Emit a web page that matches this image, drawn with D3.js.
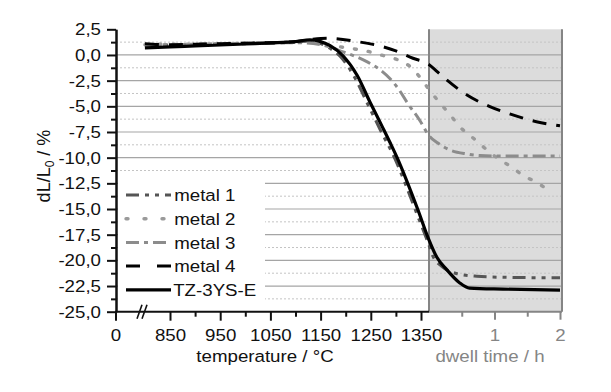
<!DOCTYPE html>
<html>
<head>
<meta charset="utf-8">
<script src="https://cdn.jsdelivr.net/npm/d3@7"></script>
<style>
  body { margin: 0; background: #fff; }
  svg { display: block; font-family: "Liberation Sans", Arial, sans-serif; }
  text.wide { transform-box: fill-box; transform-origin: center; transform: scaleX(1.1); }
  .yaxis text.wide { transform-origin: right center; }
</style>
</head>
<body>
<svg id="chart" width="611" height="392"></svg>
<script>
// heating part: [temperature °C, dL/L0 %]
var heatMetal1 = [[800,1.0],[850,0.98],[900,1.02],[950,1.06],[1000,1.1],[1050,1.15],[1100,1.25],[1125,1.35],[1150,1.1],[1165,0.75],[1192,-0.3],[1218,-2.2],[1245,-4.9],[1270,-7.4],[1298,-10.1],[1320,-12.7],[1342,-15.5],[1365,-18.4]]
var heatMetal2 = [[800,1.0],[850,1.05],[900,1.05],[950,1.1],[1000,1.15],[1050,1.2],[1100,1.25],[1150,1.1],[1200,0.7],[1235,0.45],[1270,0.0],[1305,-0.5],[1330,-1.2],[1350,-2.3],[1365,-3.3]]
var heatMetal3 = [[800,1.0],[850,1.0],[900,1.05],[950,1.1],[1000,1.15],[1050,1.2],[1100,1.2],[1150,1.0],[1195,0.3],[1242,-0.65],[1270,-1.5],[1288,-2.3],[1305,-3.3],[1322,-4.6],[1348,-6.4],[1365,-7.8]]
var heatMetal4 = [[800,1.1],[850,1.0],[900,1.05],[950,1.1],[1000,1.15],[1050,1.2],[1100,1.3],[1130,1.5],[1163,1.63],[1223,1.3],[1274,0.8],[1300,0.4],[1334,-0.32],[1365,-0.9]]
var heatTZ = [[800,0.7],[850,0.78],[900,0.88],[950,0.97],[1000,1.07],[1050,1.17],[1100,1.3],[1129,1.48],[1150,1.3],[1169,0.9],[1195,-0.1],[1223,-2.0],[1248,-4.55],[1274,-7.1],[1288,-8.5],[1302,-9.95],[1322,-12.3],[1344,-15.1],[1365,-17.9]]

// dwell part: [time h, dL/L0 %]
var dwellMetal1 = [[0.06,-19.6],[0.2,-20.6],[0.43,-21.3],[0.73,-21.55],[1.13,-21.65],[2.0,-21.7]]
var dwellMetal2 = [[0.17,-4.7],[0.32,-5.8],[0.47,-7.0],[0.65,-7.95],[0.82,-8.9],[1.08,-10.2],[1.26,-10.9],[1.43,-11.7],[1.64,-12.4],[1.81,-13.1]]
var dwellMetal3 = [[0.14,-8.6],[0.32,-9.25],[0.58,-9.64],[0.78,-9.8],[1.0,-9.83],[2.0,-9.83]]
var dwellMetal4 = [[0.12,-1.6],[0.27,-2.43],[0.58,-3.9],[0.93,-5.03],[1.28,-5.84],[1.64,-6.5],[2.0,-6.9]]
var dwellTZ = [[0.12,-19.7],[0.27,-20.9],[0.47,-22.2],[0.62,-22.7],[1.13,-22.8],[2.0,-22.9]]

var seriesNames = ["metal 1", "metal 2", "metal 3", "metal 4", "TZ-3YS-E"]
var yTicks = d3.range(-25, 2.51, 2.5)
var tempTicks = [850, 950, 1050, 1150, 1250, 1350]
var dwellTicks = [1, 2]

var styles = [
    {color: "#555", dash: "13,6,4,6,4,6", width: 3},
    {color: "#9a9a9a", dash: "2,12", width: 3.4},
    {color: "#8c8c8c", dash: "13,5,4,5", width: 3},
    {color: "#000", dash: "14,10", width: 3},
    {color: "#000", dash: null, width: 3.2}
]

var plotL = 116, plotR = 562, plotT = 29.3, plotB = 311.7

var svg = d3.select("#chart")

var y = d3.scaleLinear().domain([-25, 2.5]).range([plotB, plotT])
var xTemp = d3.scaleLinear().domain([850, 1350]).range([170, 421])
var xDwell = d3.scaleLinear().domain([0, 2]).range([429, 560])

var fmt = d3.formatLocale({decimal: ",", thousands: ".", grouping: [3], currency: ["", ""], minus: "-"}).format(".1f")

// dwell background
svg.append("rect")
    .attr("x", xDwell(0)).attr("y", plotT)
    .attr("width", plotR - xDwell(0)).attr("height", plotB - plotT)
    .attr("fill", "#dcdcdc")

// grid
var grid = svg.append("g")
grid.selectAll(".major").data(yTicks.filter(function(d) { return d > -25 && d < 2.5 }))
    .enter().append("line")
    .attr("x1", plotL).attr("x2", plotR)
    .attr("y1", function(d) { return y(d) }).attr("y2", function(d) { return y(d) })
    .attr("stroke", "#a5a5a5").attr("stroke-width", 1.2)
grid.selectAll(".minor").data(d3.range(-23.75, 2.5, 2.5))
    .enter().append("line")
    .attr("x1", plotL).attr("x2", plotR)
    .attr("y1", function(d) { return y(d) }).attr("y2", function(d) { return y(d) })
    .attr("stroke", "#c4c4c4").attr("stroke-width", 1).attr("stroke-dasharray", "2,2")

// dwell box edges
svg.selectAll(".edge").data([xDwell(0), plotR]).enter().append("line")
    .attr("x1", function(d) { return d }).attr("x2", function(d) { return d })
    .attr("y1", plotT).attr("y2", plotB)
    .attr("stroke", "#858585").attr("stroke-width", 2)

// legend background
svg.append("rect").attr("x", plotL + 2).attr("y", 176).attr("width", 147).attr("height", 132).attr("fill", "#fff")

// curves
var heats = [heatMetal1, heatMetal2, heatMetal3, heatMetal4, heatTZ]
var dwells = [dwellMetal1, dwellMetal2, dwellMetal3, dwellMetal4, dwellTZ]
var line = d3.line().curve(d3.curveMonotoneX)

heats.forEach(function(h, i) {
    var pts = h.map(function(d) { return [xTemp(d[0]), y(d[1])] })
        .concat(dwells[i].map(function(d) { return [xDwell(d[0]), y(d[1])] }))
    svg.append("path")
        .attr("d", line(pts))
        .attr("fill", "none")
        .attr("stroke", styles[i].color)
        .attr("stroke-width", styles[i].width)
        .attr("stroke-dasharray", styles[i].dash)
        .attr("stroke-linecap", i == 1 ? "round" : "butt")
})

// y axis
var yAxis = svg.append("g").attr("class", "yaxis").attr("transform", "translate(" + plotL + ",0)")
yAxis.call(d3.axisLeft(y).tickValues(yTicks).tickSize(9).tickSizeOuter(0).tickPadding(6).tickFormat(fmt))
yAxis.append("g").call(d3.axisLeft(y).tickValues(d3.range(-23.75, 2.5, 2.5)).tickSize(5).tickSizeOuter(0).tickFormat(""))
yAxis.selectAll(".domain").attr("stroke-width", 2).attr("stroke", "#111")
yAxis.selectAll(".tick line").attr("stroke-width", 2).attr("stroke", "#111")
yAxis.selectAll("text").attr("class", "wide").attr("font-size", 17).attr("fill", "#111").attr("font-family", null)

// x axes
var xAxis = svg.append("g").attr("transform", "translate(0," + plotB + ")")
xAxis.call(d3.axisBottom(xTemp).tickValues(tempTicks).tickSize(9).tickPadding(8).tickFormat(d3.format("d")))
xAxis.append("g").call(d3.axisBottom(xTemp).tickValues([900, 1000, 1100, 1200, 1300]).tickSize(5).tickFormat(""))
xAxis.selectAll(".domain").remove()
xAxis.selectAll(".tick line").attr("stroke-width", 2).attr("stroke", "#111")
xAxis.selectAll("text").attr("class", "wide").attr("font-size", 17).attr("fill", "#111").attr("font-family", null)
xAxis.append("line").attr("x1", plotL - 1).attr("x2", xDwell(0)).attr("stroke", "#111").attr("stroke-width", 2)
xAxis.append("line").attr("x1", plotL).attr("x2", plotL).attr("y2", 9).attr("stroke", "#111").attr("stroke-width", 2)
xAxis.append("text").attr("class", "wide").attr("x", plotL).attr("y", 17).attr("dy", "0.71em")
    .attr("text-anchor", "middle").attr("font-size", 17).attr("fill", "#111").text("0")
// axis break
xAxis.selectAll(".brk").data([0, 5]).enter().append("line")
    .attr("x1", function(d) { return 137 + d }).attr("y1", 7)
    .attr("x2", function(d) { return 142 + d }).attr("y2", -7)
    .attr("stroke", "#111").attr("stroke-width", 1.6)

var dAxis = svg.append("g").attr("transform", "translate(0," + plotB + ")")
dAxis.call(d3.axisBottom(xDwell).tickValues(dwellTicks).tickSize(8).tickPadding(9).tickFormat(d3.format("d")))
dAxis.append("g").call(d3.axisBottom(xDwell).tickValues([0.5, 1.5]).tickSize(5).tickFormat(""))
dAxis.selectAll(".domain").remove()
dAxis.selectAll(".tick line").attr("stroke-width", 2).attr("stroke", "#858585")
dAxis.selectAll("text").attr("class", "wide").attr("font-size", 17).attr("fill", "#858585").attr("font-family", null)
dAxis.append("line").attr("x1", xDwell(0)).attr("x2", plotR).attr("stroke", "#858585").attr("stroke-width", 2)

// axis titles
svg.append("text").attr("class", "wide").attr("x", 265).attr("y", 362).attr("text-anchor", "middle")
    .attr("font-size", 17).attr("fill", "#111").text("temperature / °C")
svg.append("text").attr("class", "wide").attr("x", 490).attr("y", 362).attr("text-anchor", "middle")
    .attr("font-size", 17).attr("fill", "#858585").text("dwell time / h")

var yt = svg.append("g").attr("transform", "translate(50,166) rotate(-90)")
var ytText = yt.append("text").attr("text-anchor", "middle").attr("font-size", 18).attr("fill", "#111")
ytText.append("tspan").text("dL/L")
ytText.append("tspan").attr("font-size", 12).attr("dy", 4).text("0")
ytText.append("tspan").attr("dy", -4).text(" / %")

// legend
var legend = svg.append("g")
var item = legend.selectAll(".item").data(seriesNames).enter().append("g")
    .attr("transform", function(d, i) { return "translate(0," + (195 + i * 23.7) + ")" })
item.append("line").attr("x1", 126).attr("x2", 171)
    .attr("stroke", function(d, i) { return styles[i].color })
    .attr("stroke-width", function(d, i) { return styles[i].width })
    .attr("stroke-dasharray", function(d, i) { return i == 3 ? "14,17" : i == 1 ? "2,16" : styles[i].dash })
    .attr("stroke-linecap", function(d, i) { return i == 1 ? "round" : "butt" })
item.append("text").attr("class", "wide").attr("x", 177).attr("dy", "0.36em")
    .attr("font-size", 17).attr("fill", "#111").text(function(d) { return d })
</script>
</body>
</html>
